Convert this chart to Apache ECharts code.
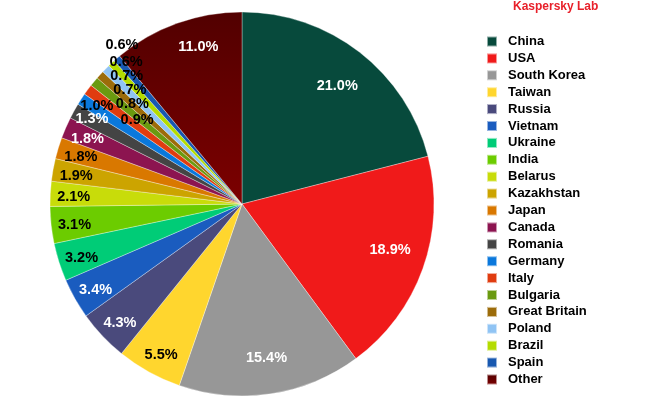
<!DOCTYPE html>
<html>
<head>
<meta charset="utf-8">
<script src="https://cdn.jsdelivr.net/npm/echarts@6/dist/echarts.min.js"></script>
<style>
  html, body { margin: 0; padding: 0; background: #fff; }
  #chart { width: 650px; height: 400px; }
</style>
</head>
<body>
<div id="chart"></div>
<script>
const countries = ['China', 'USA', 'South Korea', 'Taiwan', 'Russia', 'Vietnam', 'Ukraine', 'India',
  'Belarus', 'Kazakhstan', 'Japan', 'Canada', 'Romania', 'Germany', 'Italy', 'Bulgaria',
  'Great Britain', 'Poland', 'Brazil', 'Spain', 'Other']
const shares = [21.0, 18.9, 15.4, 5.5, 4.3, 3.4, 3.2, 3.1, 2.1, 1.9, 1.8, 1.8, 1.3, 1.0, 0.9, 0.8,
  0.7, 0.7, 0.6, 0.6, 11.0]

const palette = ['#074a3c', '#f01a1a', '#979797', '#ffd62e', '#4a4a7c', '#1a5cbf', '#00cc77', '#6ccc00',
  '#c8dc0a', '#cca400', '#d97800', '#8c1450', '#444444', '#0a78dc', '#e03c10', '#6a9a10',
  '#9c6c0a', '#90c4f4', '#b4dc00', '#1858b0',
  { type: 'linear', x: 0, y: 0, x2: 0, y2: 1, colorStops: [{ offset: 0, color: '#520000' }, { offset: 1, color: '#7c0000' }] }]

// slices whose percentage is written in white
const whiteLabels = ['China', 'USA', 'South Korea', 'Russia', 'Vietnam', 'Canada', 'Romania', 'Other']

// label rings: distance from centre, small clockwise shift (deg), which slices
const labelRings = [
  { r: 150, shift: 0, names: ['China', 'South Korea'] },
  { r: 150, shift: -3, names: ['USA'] },
  { r: 163, shift: 4, names: ['Other'] },
  { r: 167, shift: 0, names: ['Taiwan', 'Russia', 'Vietnam', 'Ukraine', 'India', 'Belarus', 'Kazakhstan', 'Japan', 'Canada'] },
  { r: 172, shift: 1, names: ['Romania'] },
  { r: 175, shift: 1.4, names: ['Germany'] },
  { r: 134, shift: 2.5, names: ['Italy'] },
  { r: 148, shift: 3, names: ['Bulgaria'] },
  { r: 160, shift: 3.5, names: ['Great Britain'] },
  { r: 172, shift: 3.3, names: ['Poland'] },
  { r: 183, shift: 3.7, names: ['Brazil'] },
  { r: 199, shift: 3.7, names: ['Spain'] },
]

const font = '"Liberation Sans", Arial, sans-serif'
const center = [242, 204]
const radius = 192

const chart = echarts.init(document.getElementById('chart'), null, { renderer: 'canvas' })

const pieData = countries.map((name, i) => ({ name, value: shares[i] }))

const labelSeries = labelRings.map(ring => ({
  type: 'pie',
  silent: true,
  center,
  radius: [ring.r - 8, ring.r + 8],
  startAngle: 90 - ring.shift,
  clockwise: true,
  avoidLabelOverlap: false,
  labelLayout: { hideOverlap: false },
  itemStyle: { color: 'transparent', borderWidth: 0 },
  emphasis: { disabled: true },
  labelLine: { show: false },
  data: pieData.map(d => ({
    name: d.name,
    value: d.value,
    label: {
      show: ring.names.includes(d.name),
      position: 'inside',
      color: whiteLabels.includes(d.name) ? '#fff' : '#000',
      fontFamily: font,
      fontSize: 14.5,
      lineHeight: 5,
      padding: [0, 0, 0, 3],
      fontWeight: 'bold',
      // empty first line nudges the text a little below the anchor, as in the original
      formatter: p => '\n' + p.value.toFixed(1) + '%',
    },
  })),
}))

chart.setOption({
  animation: false,
  color: palette,
  title: {
    text: 'Kaspersky Lab',
    left: 513,
    top: 1,
    padding: 0,
    textStyle: { color: '#e8202a', fontFamily: font, fontSize: 12, fontWeight: 'bold' },
  },
  legend: {
    orient: 'vertical',
    left: 486,
    top: 35,
    padding: 0,
    itemWidth: 10,
    itemHeight: 10,
    itemGap: 3.9,
    icon: 'rect',
    selectedMode: false,
    data: countries,
    textStyle: { color: '#000', fontFamily: font, fontSize: 13, fontWeight: 'bold', lineHeight: 13, padding: [0, 0, 0, 6] },
  },
  series: [
    {
      type: 'pie',
      center,
      radius,
      startAngle: 90,
      clockwise: true,
      label: { show: false },
      labelLine: { show: false },
      emphasis: { disabled: true },
      itemStyle: { borderColor: 'rgba(255,255,255,0.55)', borderWidth: 0.6 },
      data: pieData,
    },
    ...labelSeries,
  ],
})
</script>
</body>
</html>
